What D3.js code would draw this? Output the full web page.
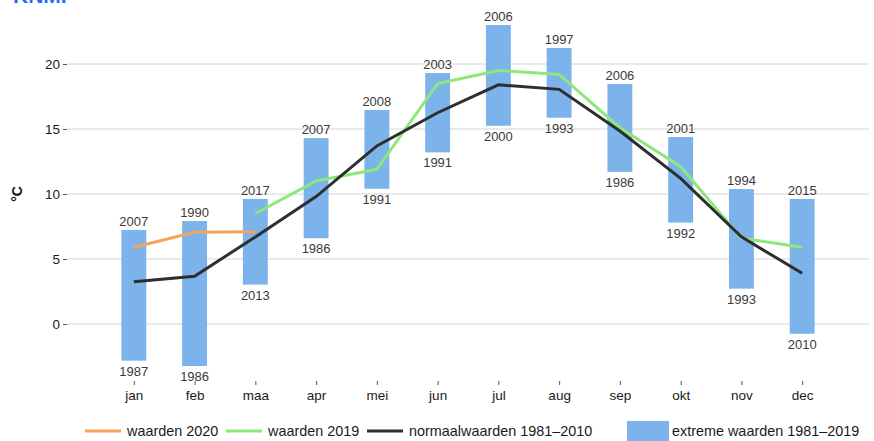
<!DOCTYPE html>
<html>
<head>
<meta charset="utf-8">
<script src="https://cdn.jsdelivr.net/npm/d3@7"></script>
<style>
  body { margin: 0; background: #fff; }
  svg { display: block; font-family: "Liberation Sans", Arial, sans-serif; }
</style>
</head>
<body>
<div id="chart"></div>
<script>
// data
var months = ["jan","feb","maa","apr","mei","jun","jul","aug","sep","okt","nov","dec"];
var extremeHi = [7.23, 7.92, 9.62, 14.3, 16.46, 19.3, 23.0, 21.23, 18.46, 14.38, 10.38, 9.62];
var extremeLo = [-2.82, -3.23, 3.03, 6.6, 10.4, 13.2, 15.25, 15.87, 11.7, 7.8, 2.72, -0.75];
var hiYears = ["2007","1990","2017","2007","2008","2003","2006","1997","2006","2001","1994","2015"];
var loYears = ["1987","1986","2013","1986","1991","1991","2000","1993","1986","1992","1993","2010"];
var normaal = [3.25, 3.67, 6.7, 9.8, 13.7, 16.25, 18.4, 18.05, 14.85, 11.2, 6.7, 3.9];
var w2019 = [null, null, 8.5, 11.0, 11.9, 18.5, 19.5, 19.2, 15.1, 12.1, 6.6, 5.9];
var w2020 = [5.9, 7.05, 7.1, null, null, null, null, null, null, null, null, null];
var yTicks = [0, 5, 10, 15, 20];

var width = 874, height = 441,
    marginLeft = 67, marginRight = 5, panelBottom = 380;

var svg = d3.select("#chart").append("svg")
    .attr("width", width)
    .attr("height", height);

var xScale = d3.scalePoint()
    .domain(months)
    .range([marginLeft, width - marginRight])
    .padding(1.1);
var step = xScale.step();
var barW = step * 0.41;

var yScale = d3.scaleLinear()
    .domain([0, 20])
    .range([324, 64]);

// header text, cut at the top like in the original
svg.append("text")
    .attr("x", 13).attr("y", 3)
    .style("font-size", "21px").style("font-weight", "bold")
    .style("fill", "#1f6cf5")
    .text("KNMI");

// grid
svg.append("g").selectAll("line").data(yTicks).enter()
    .append("line")
      .attr("x1", marginLeft).attr("x2", width - marginRight)
      .attr("y1", function(d){ return yScale(d); })
      .attr("y2", function(d){ return yScale(d); })
      .style("stroke", "#d4d4d4")
      .style("stroke-width", 1);

// y axis
var yAxis = svg.append("g")
    .attr("transform", "translate(" + marginLeft + ",0)")
    .call(d3.axisLeft(yScale).tickValues(yTicks).tickSize(4).tickPadding(3));
yAxis.select(".domain").remove();
yAxis.selectAll("line").style("stroke", "#555");
yAxis.selectAll("text").style("font-size", "13.5px").style("fill", "#1a1a1a")
    .style("font-family", "Liberation Sans, Arial, sans-serif");

svg.append("text")
    .attr("transform", "translate(22,194) rotate(-90)")
    .style("text-anchor", "middle")
    .style("font-size", "14px").style("font-weight", "bold")
    .style("fill", "#111")
    .text("°C");

// x axis
var xAxis = svg.append("g")
    .attr("transform", "translate(0," + (panelBottom + 1) + ")")
    .call(d3.axisBottom(xScale).tickSize(4).tickPadding(5));
xAxis.select(".domain").remove();
xAxis.selectAll("line").style("stroke", "#555");
xAxis.selectAll("text").style("font-size", "13.5px").style("fill", "#1a1a1a")
    .style("font-family", "Liberation Sans, Arial, sans-serif");

// extreme bars
svg.append("g").selectAll("rect").data(months).enter()
    .append("rect")
      .attr("x", function(d){ return xScale(d) - barW/2; })
      .attr("width", barW)
      .attr("y", function(d,i){ return yScale(extremeHi[i]); })
      .attr("height", function(d,i){ return yScale(extremeLo[i]) - yScale(extremeHi[i]); })
      .style("fill", "#7cb3ea");

// year labels
svg.append("g").selectAll("text").data(months).enter()
    .append("text")
      .attr("x", function(d){ return xScale(d); })
      .attr("y", function(d,i){ return yScale(extremeHi[i]) - 4; })
      .style("text-anchor", "middle").style("font-size", "13px").style("fill", "#3a3a3a")
      .text(function(d,i){ return hiYears[i]; });
svg.append("g").selectAll("text").data(months).enter()
    .append("text")
      .attr("x", function(d){ return xScale(d); })
      .attr("y", function(d,i){ return yScale(extremeLo[i]) + 15; })
      .style("text-anchor", "middle").style("font-size", "13px").style("fill", "#3a3a3a")
      .text(function(d,i){ return loYears[i]; });

// lines
var line = d3.line()
    .defined(function(d){ return d[1] != null; })
    .x(function(d){ return xScale(d[0]); })
    .y(function(d){ return yScale(d[1]); });
function zipm(arr){ return months.map(function(m,i){ return [m, arr[i]]; }); }

svg.append("path").datum(zipm(w2020))
    .attr("d", line).style("fill", "none")
    .style("stroke", "#f5a35c").style("stroke-width", 3);
svg.append("path").datum(zipm(w2019))
    .attr("d", line).style("fill", "none")
    .style("stroke", "#8de77a").style("stroke-width", 3);
svg.append("path").datum(zipm(normaal))
    .attr("d", line).style("fill", "none")
    .style("stroke", "#2e2e2e").style("stroke-width", 3);

// legend
var legend = svg.append("g");
var legItems = [
  {label: "waarden 2020", color: "#f5a35c", x: 85},
  {label: "waarden 2019", color: "#8de77a", x: 226},
  {label: "normaalwaarden 1981–2010", color: "#2e2e2e", x: 367}
];
legItems.forEach(function(d){
  legend.append("line")
    .attr("x1", d.x).attr("x2", d.x + 36)
    .attr("y1", 431).attr("y2", 431)
    .style("stroke", d.color).style("stroke-width", 3);
  legend.append("text")
    .attr("x", d.x + 42).attr("y", 436)
    .style("font-size", "14.4px").style("fill", "#1a1a1a")
    .text(d.label);
});
legend.append("rect")
  .attr("x", 627).attr("y", 421).attr("width", 42).attr("height", 20)
  .style("fill", "#7cb3ea");
legend.append("text")
  .attr("x", 672).attr("y", 436)
  .style("font-size", "14.4px").style("fill", "#1a1a1a")
  .text("extreme waarden 1981–2019");
</script>
</body>
</html>
